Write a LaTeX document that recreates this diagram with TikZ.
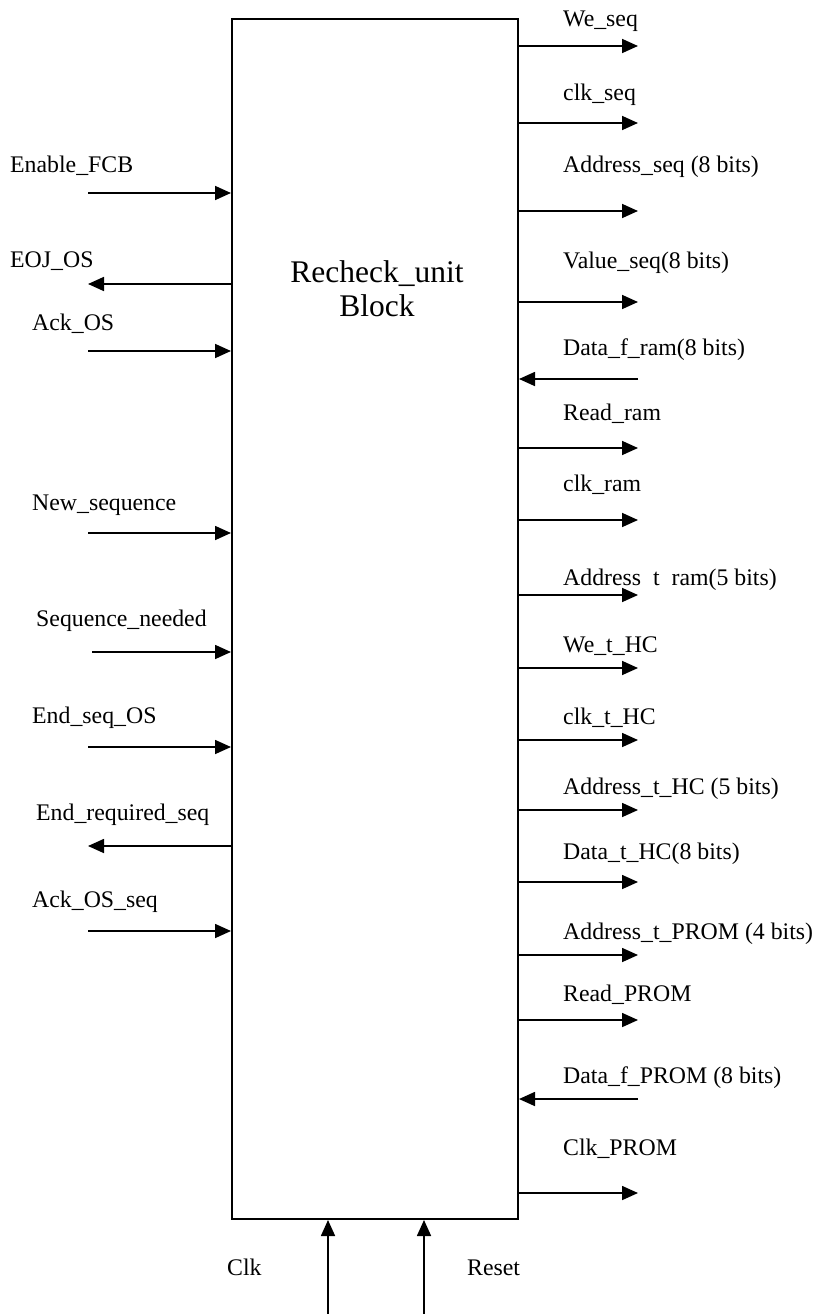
\documentclass[tikz,border=0pt]{standalone}
\usepackage{fontspec}
\setmainfont{Liberation Serif}
\usetikzlibrary{arrows.meta}
\begin{document}
\begin{tikzpicture}[x=1pt,y=-1pt,
  sig/.style={line width=1.7pt,-{Triangle[length=16pt,width=14pt]}},
  lbl/.style={anchor=base west,inner sep=0pt,font=\fontsize{23.8}{27}\selectfont},
  blockbox/.style={draw,line width=2pt,minimum width=286pt,minimum height=1200pt,inner sep=0pt}]
\useasboundingbox (0,0) rectangle (820,1314);
% the unit itself
\node[blockbox] (blk) at (375,619) {};
\node[align=center,font=\fontsize{31.5}{34}\selectfont] (title) at (377,289) {Recheck\_unit\\Block};

% right-hand signals: arrow y / label / label baseline / direction
\foreach \i/\y/\t/\b/\d in {
  1/46/We\_seq/27/o,
  2/123/clk\_seq/100/o,
  3/211/Address\_seq (8 bits)/172/o,
  4/302/Value\_seq(8 bits)/268/o,
  5/379/Data\_f\_ram(8 bits)/355/i,
  6/448/Read\_ram/420/o,
  7/520/clk\_ram/491/o,
  8/595/Address\ \ t\ \ ram(5 bits)/585/o,
  9/668/We\_t\_HC/652/o,
  10/740/clk\_t\_HC/724/o,
  11/810/Address\_t\_HC (5 bits)/794/o,
  12/882/Data\_t\_HC(8 bits)/859/o,
  13/955/Address\_t\_PROM (4 bits)/939/o,
  14/1020/Read\_PROM/1001/o,
  15/1099/Data\_f\_PROM (8 bits)/1083/i,
  16/1193/Clk\_PROM/1155/o}{
  \coordinate (r\i) at (638,\y);
  \node[lbl] (rl\i) at (563,\b) {\t};
  \if o\d
    \draw[sig] (blk.east |- r\i) -- (r\i);
  \else
    \draw[sig] (r\i) -- (blk.east |- r\i);
  \fi
}

% left-hand signals: arrow y / label / label x / label baseline / direction / free end x
\foreach \i/\y/\t/\x/\b/\d/\e in {
  1/193/Enable\_FCB/10/172/i/88,
  2/284/EOJ\_OS/10/267/o/88,
  3/351/Ack\_OS/32/330/i/88,
  4/533/New\_sequence/32/510/i/88,
  5/652/Sequence\_needed/36/626/i/92,
  6/747/End\_seq\_OS/32/723/i/88,
  7/846/End\_required\_seq/36/820/o/88,
  8/931/Ack\_OS\_seq/32/907/i/88}{
  \coordinate (l\i) at (\e,\y);
  \node[lbl] (ll\i) at (\x,\b) {\t};
  \if i\d
    \draw[sig] (l\i) -- (blk.west |- l\i);
  \else
    \draw[sig] (blk.west |- l\i) -- (l\i);
  \fi
}

% clock and reset from below
\coordinate (clkin) at (328,1314);
\coordinate (rstin) at (424,1314);
\draw[sig] (clkin) -- (blk.south -| clkin);
\draw[sig] (rstin) -- (blk.south -| rstin);
\node[lbl] (clklbl) at (227,1275) {Clk};
\node[lbl] (rstlbl) at (467,1275) {Reset};
\end{tikzpicture}
\end{document}
